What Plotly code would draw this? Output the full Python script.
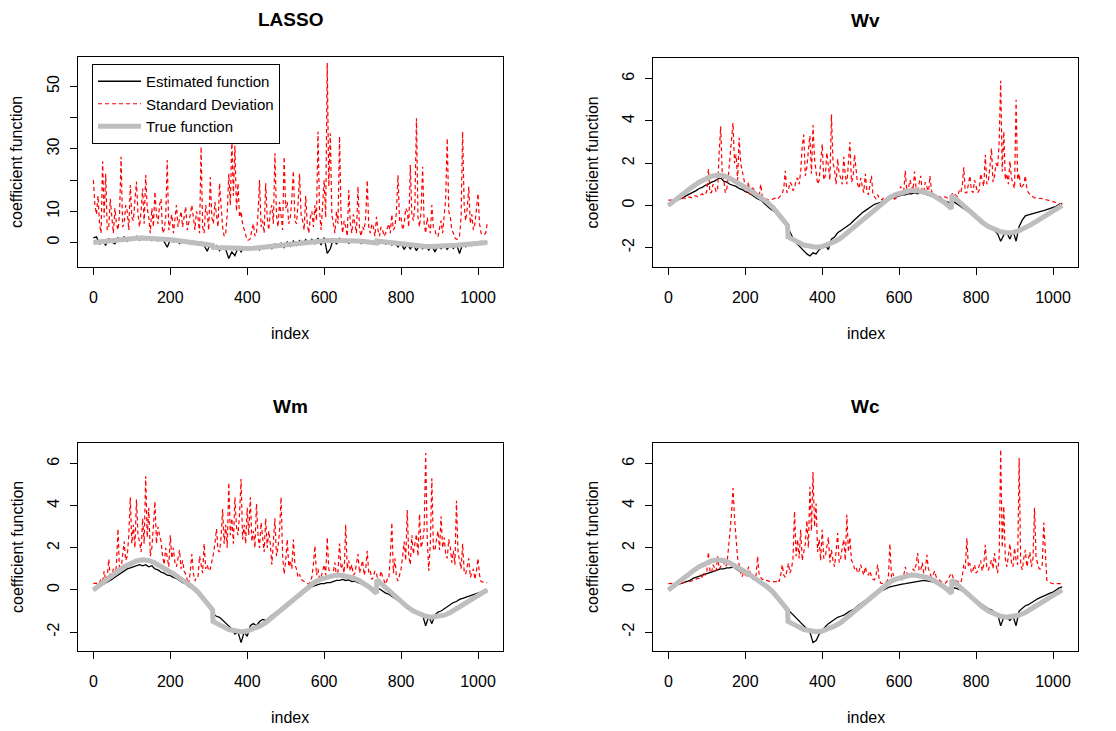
import plotly.graph_objects as go

# ---------------- data ----------------
index_grid8 = list(range(0, 1025, 8))   # positions of the estimated-function values
index_grid4 = list(range(0, 1025, 4))   # positions of the standard-deviation values

true_idx = [0, 16, 32, 48, 64, 80, 96, 112, 128, 144, 160, 176, 192, 208, 224, 240,
            256, 272, 288, 304, 310, 311, 320, 336, 352, 368, 384, 400, 416, 432, 448, 464,
            480, 496, 512, 528, 544, 560, 576, 592, 608, 624, 640, 656, 672, 688, 704, 720,
            736, 737, 752, 768, 784, 800, 816, 832, 848, 864, 880, 896, 912, 928, 944, 960,
            976, 992, 1008, 1024]
true_val = [0.0, 0.24, 0.45, 0.67, 0.9, 1.1, 1.27, 1.38, 1.43, 1.4, 1.28, 1.12, 0.95, 0.77, 0.57, 0.38,
            0.16, -0.1, -0.45, -0.8, -0.95, -1.5, -1.6, -1.73, -1.88, -1.96, -1.98, -1.95, -1.86, -1.72, -1.55, -1.3,
            -1.08, -0.82, -0.56, -0.32, -0.06, 0.17, 0.38, 0.52, 0.62, 0.68, 0.71, 0.68, 0.6, 0.48, 0.3, 0.1,
            -0.16, 0.48, 0.24, -0.02, -0.28, -0.56, -0.8, -1.0, -1.15, -1.25, -1.3, -1.28, -1.2, -1.07, -0.9, -0.72,
            -0.55, -0.36, -0.18, 0.0]

lasso_est = [1.5, 1.8, -0.5, 0.3, -0.8, 1.2, 0.2, -0.4, 1.5, 0.6, 1.8, 0.4, 1.6, 0.8, 2.0, 0.7,
             1.9, 0.9, 1.7, 0.6, 1.5, 0.5, 1.4, 0.3, -1.5, 0.9, 0.2, 1.0, -0.3, 0.6, -0.2, 0.5,
             -0.6, 0.3, -0.8, 0.2, -1.0, -2.8, -0.3, -2.0, -1.0, -2.6, -1.3, -2.2, -5.1, -3.0, -4.2, -1.6,
             -3.0, -1.5, -2.3, -1.7, -2.0, -1.3, -2.4, -1.0, -1.8, -0.8, -2.0, -0.5, -1.4, -0.2, -1.6, 0.2,
             -1.2, 0.5, -0.9, 0.6, -0.6, 0.9, -0.3, 1.0, -0.4, 1.4, -0.8, 1.6, -3.5, -2.0, 1.2, -0.5,
             1.3, 0.2, 1.0, -0.2, 0.9, 0.1, 0.8, -0.3, 0.7, -0.2, 0.5, -0.5, 0.3, -0.4, 0.6, -0.5,
             0.4, -0.8, 0.2, -1.4, -0.3, -2.2, -0.5, -2.0, -0.7, -2.6, -0.8, -2.0, -0.9, -2.4, -1.0, -3.0,
             -1.0, -2.0, -0.7, -2.2, -0.8, -1.9, -0.5, -3.5, -0.4, -1.4, -0.2, -1.0, 0.2, -0.6, 0.4, -0.3,
             0.2]
lasso_sd = [20, 12, 9, 15, 6, 3, 26, 8, 22, 4, 5, 14, 8, 3, 11, 6,
            4, 9, 27.5, 5, 6, 12, 10, 4, 18.4, 8, 7, 15, 19.5, 9, 5, 10,
            17.3, 6, 21.6, 11, 8, 3, 11, 5, 16.3, 9, 6, 12, 14, 3, 4, 8,
            26.4, 4, 6, 9, 3, 7, 12, 5, 7, 10, 5, 8, 11.5, 4, 6, 9,
            12, 7, 4, 10, 8, 3, 30.7, 5, 3, 12, 9, 4, 21, 8, 6, 13,
            8, 5, 19, 10, 5, 2, 3, 9, 22, 12, 33, 15, 31, 10, 19, 8,
            10, 6, 4, 2, 0.7, 0.8, 1.2, 4, 6, 2, 3, 9, 20, 5, 7, 3,
            19, 8, 4, 10, 12, 6, 28.6, 9, 5, 13, 9, 4, 27.5, 11, 13, 6,
            8, 14, 23, 7, 6, 12, 22, 9, 7, 4, 15, 6, 3, 8, 10, 5,
            12, 7, 35.5, 10, 4, 13, 20, 8, 57.5, 18, 35, 9, 6, 3, 10, 6,
            34, 8, 3, 7, 5, 2, 16.8, 6, 3, 9, 6, 3, 17.9, 4, 2, 5,
            4, 8, 20, 5, 3, 6, 5, 2, 8.2, 4, 2, 5, 4, 2, 3, 5,
            6, 3, 9, 4, 5, 10, 21.6, 7, 8, 4, 6, 11, 10, 5, 24.8, 9,
            7, 12, 39.8, 8, 5, 10, 24.3, 6, 3, 8, 6, 3, 12, 5, 4, 2,
            2, 5, 7, 3, 9, 14, 33.4, 10, 8, 4, 3, 1.5, 1, 1.2, 2, 8,
            35.5, 12, 7, 11, 17.9, 6, 9, 4, 6, 10, 15.7, 6, 3, 2.5, 2.5, 3,
            6.3]

wv_est = [0.0, 0.1, 0.2, 0.25, 0.32, 0.4, 0.48, 0.55, 0.62, 0.7, 0.8, 0.85, 0.95, 1.0, 1.1, 1.15,
          1.25, 1.3, 1.15, 1.1, 1.0, 0.95, 0.9, 0.8, 0.75, 0.65, 0.6, 0.5, 0.4, 0.3, 0.25, 0.1,
          0.0, -0.15, -0.25, -0.35, -0.5, -0.65, -0.85, -1.1, -1.4, -1.7, -1.85, -2.0, -2.2, -2.3, -2.4, -2.25,
          -2.3, -2.1, -2.0, -1.9, -2.1, -1.6, -1.5, -1.3, -1.2, -1.1, -1.0, -0.9, -0.75, -0.6, -0.5, -0.35,
          -0.25, -0.15, -0.05, 0.05, 0.1, 0.15, 0.2, 0.25, 0.3, 0.35, 0.4, 0.45, 0.5, 0.5, 0.55, 0.55,
          0.6, 0.55, 0.6, 0.55, 0.5, 0.45, 0.4, 0.35, 0.3, 0.25, 0.2, 0.15, 0.1, 0.15, 0.05, -0.05,
          -0.15, -0.25, -0.35, -0.45, -0.6, -0.7, -0.8, -0.9, -1.0, -1.1, -1.2, -1.35, -1.7, -1.4, -1.3, -1.6,
          -1.2, -1.7, -1.0, -0.7, -0.5, -0.45, -0.4, -0.35, -0.3, -0.28, -0.25, -0.2, -0.15, -0.1, -0.05, 0.05,
          0.1]
wv_sd = [0.25, 0.25, 0.25, 0.27, 0.28, 0.26, 0.25, 0.3, 0.3, 0.32, 0.35, 0.33, 0.32, 0.38, 0.4, 0.36,
         0.38, 0.45, 0.45, 0.4, 0.42, 0.5, 0.55, 0.48, 0.5, 0.7, 1.72, 0.6, 0.6, 1.0, 0.9, 0.65,
         0.7, 2.5, 3.74, 1.5, 1.2, 0.6, 0.8, 1.4, 2.2, 3.0, 3.9, 2.0, 2.4, 1.2, 3.2, 2.0,
         1.6, 1.3, 0.9, 0.6, 1.1, 0.5, 0.7, 0.9, 0.6, 0.45, 0.5, 0.4, 1.0, 0.4, 0.35, 0.3,
         0.3, 0.25, 0.25, 0.28, 0.3, 0.32, 0.35, 0.3, 0.4, 0.5, 0.55, 0.8, 1.64, 0.6, 0.7, 1.1,
         1.0, 0.7, 0.8, 1.2, 1.3, 1.0, 1.6, 2.8, 3.35, 1.4, 1.8, 2.6, 3.3, 1.5, 3.8, 2.2,
         1.5, 1.0, 1.2, 2.0, 2.9, 1.2, 1.4, 2.5, 1.8, 1.2, 4.3, 2.0, 1.7, 1.0, 2.2, 1.5,
         1.3, 1.0, 2.3, 1.4, 1.0, 2.0, 3.0, 1.1, 1.3, 2.4, 1.8, 1.0, 0.8, 1.3, 0.9, 0.6,
         1.5, 0.7, 0.5, 0.9, 1.4, 0.5, 0.4, 0.3, 0.5, 0.35, 0.3, 0.25, 0.4, 0.3, 0.25, 0.28,
         0.3, 0.5, 0.45, 0.3, 0.35, 0.5, 0.6, 0.9, 0.5, 0.7, 1.64, 0.6, 0.8, 1.2, 1.0, 0.7,
         1.6, 0.8, 0.7, 1.0, 1.4, 0.6, 0.6, 1.1, 0.9, 0.5, 1.4, 0.7, 0.5, 0.45, 0.4, 0.35,
         0.45, 0.35, 0.3, 0.4, 0.4, 0.35, 0.35, 0.4, 0.5, 0.6, 0.55, 0.45, 0.4, 0.7, 0.6, 0.9,
         1.8, 0.6, 0.6, 1.0, 1.4, 0.7, 0.6, 1.2, 0.9, 0.6, 0.7, 1.5, 1.2, 0.9, 2.4, 1.0,
         1.2, 1.8, 2.7, 1.1, 1.4, 2.0, 1.8, 3.0, 5.9, 1.6, 3.5, 1.2, 1.5, 1.0, 2.1, 1.3,
         1.0, 0.8, 5.0, 1.2, 1.5, 0.8, 0.9, 1.0, 1.4, 0.8, 0.6, 0.5, 0.45, 0.4, 0.35, 0.35,
         0.35, 0.34, 0.33, 0.32, 0.3, 0.28, 0.25, 0.22, 0.2, 0.19, 0.18, 0.15, 0.12, 0.1, 0.08, 0.06,
         0.05]

wm_est = [0.0, 0.08, 0.15, 0.25, 0.3, 0.38, 0.5, 0.6, 0.7, 0.8, 0.9, 1.0, 1.05, 1.1, 1.15, 1.2,
          1.15, 1.2, 1.1, 1.15, 1.0, 0.95, 0.85, 0.8, 0.7, 0.68, 0.6, 0.55, 0.45, 0.35, 0.3, 0.15,
          0.1, -0.05, -0.15, -0.25, -0.45, -0.55, -0.75, -1.15, -1.25, -1.3, -1.45, -1.6, -1.75, -1.85, -2.1, -2.0,
          -2.5, -2.0, -2.2, -1.7, -1.6, -1.7, -1.5, -1.4, -1.45, -1.3, -1.2, -1.1, -1.0, -0.9, -0.85, -0.7,
          -0.6, -0.45, -0.4, -0.25, -0.1, 0.0, 0.05, 0.15, 0.2, 0.25, 0.3, 0.3, 0.35, 0.35, 0.4, 0.45,
          0.45, 0.5, 0.45, 0.48, 0.4, 0.42, 0.35, 0.3, 0.25, 0.2, 0.1, 0.05, 0.0, 0.05, -0.05, -0.15,
          -0.2, -0.3, -0.4, -0.5, -0.6, -0.7, -0.85, -0.9, -1.0, -1.05, -1.1, -1.2, -1.7, -1.25, -1.6, -1.2,
          -1.05, -1.0, -0.9, -0.8, -0.7, -0.6, -0.55, -0.45, -0.4, -0.35, -0.3, -0.25, -0.2, -0.15, -0.1, -0.05,
          0.0]
wm_sd = [0.3, 0.32, 0.3, 0.4, 0.35, 0.5, 0.4, 0.9, 0.45, 0.6, 1.46, 0.5, 0.7, 1.0, 0.55, 1.2,
         2.9, 0.9, 1.0, 1.8, 2.3, 1.4, 1.6, 2.6, 4.4, 2.2, 3.1, 2.0, 4.3, 2.6, 2.3, 1.8,
         3.4, 2.2, 5.4, 2.5, 3.9, 1.6, 2.0, 3.0, 4.2, 2.2, 3.0, 2.6, 2.3, 1.6, 1.2, 2.0,
         1.6, 1.1, 2.6, 1.5, 2.0, 1.3, 1.1, 1.6, 1.9, 1.0, 1.4, 0.9, 0.75, 0.5, 0.27, 0.9,
         1.7, 0.8, 0.43, 0.6, 0.6, 1.6, 1.14, 0.8, 2.2, 1.0, 1.2, 0.9, 1.0, 1.3, 1.7, 2.2,
         2.9, 1.9, 1.8, 2.5, 3.84, 2.2, 3.1, 2.0, 5.1, 2.6, 3.4, 2.2, 4.4, 3.0, 2.6, 3.6,
         5.27, 2.4, 3.1, 2.2, 3.9, 2.6, 4.4, 2.3, 2.8, 2.0, 4.1, 2.6, 2.0, 3.2, 2.5, 1.8,
         3.4, 2.0, 2.8, 2.2, 1.2, 2.6, 3.4, 1.6, 2.0, 2.8, 4.4, 1.6, 0.75, 1.4, 2.4, 1.1,
         1.4, 1.0, 2.4, 1.2, 1.0, 0.6, 0.75, 0.5, 0.43, 0.4, 0.35, 0.3, 0.27, 0.4, 0.6, 1.2,
         2.1, 0.7, 1.0, 0.5, 0.6, 0.9, 1.2, 0.7, 2.5, 1.0, 0.75, 0.5, 0.9, 1.3, 0.6, 0.9,
         2.2, 1.0, 1.2, 0.8, 3.1, 1.0, 1.4, 0.9, 1.2, 0.7, 0.8, 1.2, 1.7, 0.8, 1.06, 1.4,
         0.7, 1.0, 1.86, 0.8, 0.9, 0.5, 0.6, 0.9, 0.8, 0.4, 0.5, 0.9, 0.6, 0.4, 0.27, 0.5,
         0.5, 1.6, 3.2, 0.8, 1.5, 0.6, 0.43, 0.7, 1.0, 1.6, 2.3, 1.4, 3.8, 1.6, 1.2, 2.6,
         1.7, 2.2, 2.65, 1.6, 3.6, 2.0, 2.3, 2.9, 6.5, 2.4, 0.9, 2.2, 5.3, 2.0, 1.86, 2.4,
         2.8, 1.9, 3.5, 2.0, 2.5, 1.7, 1.5, 2.4, 2.0, 1.3, 1.86, 1.2, 4.24, 1.8, 1.4, 1.0,
         2.2, 0.9, 0.75, 1.2, 1.5, 0.6, 0.8, 1.0, 0.5, 0.9, 1.5, 0.7, 0.4, 0.38, 0.35, 0.35,
         0.35]

wc_est = [0.0, 0.1, 0.2, 0.25, 0.3, 0.35, 0.4, 0.45, 0.55, 0.6, 0.65, 0.68, 0.75, 0.8, 0.85, 0.9,
          0.95, 1.0, 1.0, 1.05, 1.05, 1.1, 1.0, 0.9, 0.85, 0.8, 0.7, 0.62, 0.55, 0.45, 0.35, 0.25,
          0.1, 0.0, -0.15, -0.3, -0.45, -0.65, -0.8, -1.0, -1.1, -1.3, -1.45, -1.6, -1.7, -1.85, -2.0, -2.5,
          -2.4, -2.1, -1.9, -1.75, -1.6, -1.5, -1.4, -1.3, -1.25, -1.2, -1.1, -1.0, -0.95, -0.8, -0.7, -0.6,
          -0.5, -0.45, -0.35, -0.25, -0.15, -0.05, 0.0, 0.08, 0.15, 0.18, 0.22, 0.25, 0.28, 0.3, 0.33, 0.35,
          0.38, 0.42, 0.45, 0.45, 0.43, 0.42, 0.38, 0.32, 0.3, 0.22, 0.15, 0.1, 0.0, 0.1, 0.05, 0.0,
          -0.1, -0.2, -0.3, -0.4, -0.5, -0.6, -0.72, -0.8, -0.9, -0.95, -1.05, -1.15, -1.7, -1.3, -1.3, -1.45,
          -1.25, -1.7, -1.0, -0.85, -0.75, -0.7, -0.6, -0.5, -0.42, -0.35, -0.3, -0.22, -0.15, -0.1, 0.0, 0.1,
          0.15]
wc_sd = [0.3, 0.3, 0.3, 0.3, 0.3, 0.32, 0.32, 0.3, 0.3, 0.33, 0.35, 0.35, 0.35, 0.38, 0.4, 0.42,
         0.45, 0.5, 0.5, 0.55, 0.55, 0.7, 0.6, 0.8, 0.7, 0.9, 1.8, 0.9, 0.8, 1.2, 1.0, 0.9,
         1.6, 1.0, 1.1, 1.5, 1.3, 1.1, 1.2, 1.8, 2.7, 3.6, 4.84, 3.4, 2.4, 1.5, 1.2, 0.8,
         0.63, 0.9, 0.7, 0.6, 1.1, 0.8, 0.6, 0.5, 0.5, 0.7, 1.6, 0.7, 0.6, 0.5, 0.5, 0.45,
         0.45, 0.42, 0.4, 0.4, 0.4, 0.4, 0.4, 0.5, 0.4, 0.7, 1.2, 0.7, 0.6, 0.9, 1.27, 0.8,
         1.0, 1.5, 3.73, 1.6, 2.4, 1.5, 2.86, 1.4, 1.9, 2.2, 3.3, 2.0, 4.9, 2.8, 5.6, 3.0,
         4.1, 1.8, 2.4, 1.4, 2.86, 1.5, 1.6, 2.0, 2.5, 1.3, 1.9, 1.4, 1.1, 1.8, 2.7, 1.3,
         1.5, 2.0, 2.4, 1.4, 3.57, 1.8, 2.5, 1.4, 1.27, 1.0, 1.1, 0.8, 0.9, 1.2, 0.87, 0.7,
         1.1, 0.8, 0.7, 0.9, 0.63, 0.5, 0.48, 0.7, 1.2, 0.5, 0.32, 0.3, 0.3, 0.35, 0.4, 0.6,
         2.2, 0.6, 0.8, 0.5, 0.5, 0.45, 0.45, 0.5, 0.48, 0.7, 1.1, 0.8, 0.7, 0.6, 0.8, 1.0,
         0.9, 1.2, 1.75, 0.9, 0.95, 1.3, 0.8, 0.9, 1.67, 1.0, 0.8, 0.6, 0.7, 0.9, 0.63, 0.55,
         0.5, 0.4, 0.35, 0.33, 0.32, 0.4, 0.5, 0.7, 0.8, 0.6, 0.48, 0.45, 0.4, 0.35, 0.32, 0.6,
         1.2, 1.0, 2.46, 1.1, 1.27, 0.8, 0.95, 1.2, 0.8, 0.9, 1.1, 1.4, 0.9, 1.2, 2.14, 1.0,
         0.95, 1.2, 1.43, 1.0, 1.75, 1.2, 0.8, 1.6, 6.67, 2.0, 3.97, 1.5, 1.1, 1.6, 2.2, 1.3,
         1.1, 2.0, 1.4, 1.2, 6.27, 1.2, 0.95, 1.5, 1.9, 1.1, 1.43, 1.8, 1.1, 1.5, 3.9, 1.5,
         1.27, 1.0, 1.0, 1.2, 3.2, 1.9, 0.46, 0.4, 0.35, 0.32, 0.3, 0.3, 0.3, 0.3, 0.3, 0.3,
         0.3]

panel_titles = ["LASSO", "Wv", "Wm", "Wc"]
x_ticks = [0, 200, 400, 600, 800, 1000]
lasso_yticks = [0, 10, 20, 30, 40, 50]
lasso_yticktext = ["0", "10", "", "30", "", "50"]
w_yticks = [-2, 0, 2, 4, 6]
w_yticktext = ["-2", "0", "2", "4", "6"]

# ---------------- layout ----------------
W, H = 1116, 731
FONT = "Liberation Sans"
FS = 16
boxes = [(78, 503, 57, 267), (653, 1078, 58, 267), (78, 503, 443, 651), (653, 1078, 443, 651)]
yranges = [[-7.85, 59.45], [-2.92, 6.98], [-2.9, 6.98], [-2.9, 6.98]]

est_list = [lasso_est, wv_est, wm_est, wc_est]
sd_list = [lasso_sd, wv_sd, wm_sd, wc_sd]

fig = go.Figure()
annotations = []
for k in range(4):
    ax = "" if k == 0 else str(k + 1)
    xref, yref = "x" + ax, "y" + ax
    est, sd = est_list[k], sd_list[k]
    fig.add_trace(go.Scatter(x=index_grid8[:len(est)], y=est, xaxis=xref, yaxis=yref, mode="lines",
                             line=dict(color="black", width=1.3), name="Estimated function",
                             showlegend=(k == 0)))
    fig.add_trace(go.Scatter(x=index_grid4[:len(sd)], y=sd, xaxis=xref, yaxis=yref, mode="lines",
                             line=dict(color="#FF0000", width=1.2, dash="4px,3px"),
                             name="Standard Deviation", showlegend=(k == 0)))
    fig.add_trace(go.Scatter(x=true_idx, y=true_val, xaxis=xref, yaxis=yref, mode="lines",
                             line=dict(color="#BEBEBE", width=5), name="True function",
                             showlegend=(k == 0)))

    x0, x1, y0, y1 = boxes[k]
    common = dict(showline=True, linecolor="black", linewidth=1, mirror=True, showgrid=False,
                  zeroline=False, ticks="outside", ticklen=7, tickwidth=1, tickcolor="black",
                  tickfont=dict(family=FONT, size=FS, color="black"))
    fig.layout["xaxis" + ax] = dict(domain=[x0 / W, x1 / W], range=[-40, 1065], tickvals=x_ticks,
                                    anchor=yref, ticklabelstandoff=9, **common)
    if k == 0:
        tv, tt = lasso_yticks, lasso_yticktext
    else:
        tv, tt = w_yticks, w_yticktext
    fig.layout["yaxis" + ax] = dict(domain=[1 - y1 / H, 1 - y0 / H], range=yranges[k], tickvals=tv,
                                    ticktext=tt, tickangle=-90, anchor=xref, ticklabelstandoff=5,
                                    **common)
    cx = (x0 + x1) / 2 / W
    annotations.append(dict(text="<b>%s</b>" % panel_titles[k], x=cx, y=1 - (y0 - 37) / H,
                            xref="paper", yref="paper", showarrow=False,
                            font=dict(family=FONT, size=19, color="black"),
                            xanchor="center", yanchor="middle"))
    annotations.append(dict(text="index", x=cx, y=1 - (y1 + 66) / H, xref="paper", yref="paper",
                            showarrow=False, font=dict(family=FONT, size=FS, color="black"),
                            xanchor="center", yanchor="middle"))
    annotations.append(dict(text="coefficient function", x=(x0 - 61) / W, y=1 - (y0 + y1) / 2 / H,
                            xref="paper", yref="paper", showarrow=False, textangle=-90,
                            font=dict(family=FONT, size=FS, color="black"),
                            xanchor="center", yanchor="middle"))

fig.update_layout(
    width=W, height=H, margin=dict(l=0, r=0, t=0, b=0),
    paper_bgcolor="white", plot_bgcolor="white",
    font=dict(family=FONT, size=FS, color="black"),
    annotations=annotations,
    showlegend=True,
    legend=dict(x=92 / W, y=1 - 64 / H, xanchor="left", yanchor="top", bgcolor="white",
                bordercolor="black", borderwidth=1, font=dict(family=FONT, size=15, color="black"),
                tracegroupgap=0, itemwidth=43),
)
fig.write_html("out.html")
